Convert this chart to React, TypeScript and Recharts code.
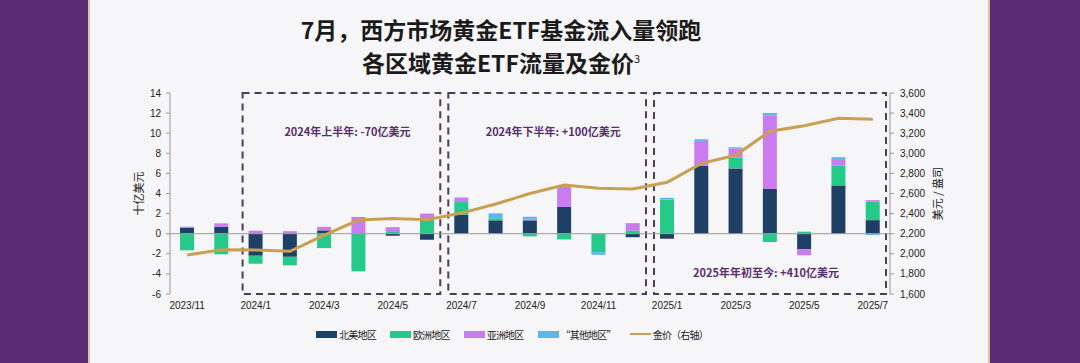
import React from "react";
import {
  Bar,
  ComposedChart,
  Legend,
  Line,
  ReferenceArea,
  ReferenceLine,
  XAxis,
  YAxis,
} from "recharts";

// 月份（横轴）
const months = [
  "2023/11", "2023/12", "2024/1", "2024/2", "2024/3", "2024/4", "2024/5",
  "2024/6", "2024/7", "2024/8", "2024/9", "2024/10", "2024/11", "2024/12",
  "2025/1", "2025/2", "2025/3", "2025/4", "2025/5", "2025/6", "2025/7",
];

// 各区域黄金ETF流量，十亿美元
const northAmerica = [0.6, 0.7, -2.2, -2.3, 0.33, 0, -0.2, -0.6, 1.9, 1.33, 1.33, 2.66, 0, -0.35, -0.5, 6.73, 6.5, 4.45, -1.55, 4.8, 1.35];
const europe = [-1.65, -2.05, -0.78, -0.85, -1.43, -3.75, 0.25, 1.4, 1.25, 0.2, -0.27, -0.57, -1.83, 0.3, 3.4, 0, 1.07, -0.83, 0.2, 1.97, 1.87];
const asia = [0.1, 0.33, 0.3, 0.25, 0.35, 1.66, 0.4, 0.6, 0.45, 0, 0.1, 2.06, 0, 0.75, 0, 2.5, 0.93, 7.33, -0.6, 0.57, 0.12];
const other = [0, 0, 0, 0, 0, 0, 0, 0, 0, 0.5, 0.25, 0, -0.27, 0, 0.17, 0.17, 0.1, 0.23, 0, 0.27, -0.12];

// 金价，美元/盎司
const goldPrice = [1988, 2040, 2038, 2025, 2185, 2336, 2350, 2340, 2405, 2495, 2600, 2685, 2652, 2645, 2712, 2900, 2980, 3220, 3275, 3348, 3338];

const leftTicks = [-6, -4, -2, 0, 2, 4, 6, 8, 10, 12, 14];
const rightTicks = [1600, 1800, 2000, 2200, 2400, 2600, 2800, 3000, 3200, 3400, 3600];

const seriesNames = ["北美地区", "欧洲地区", "亚洲地区", "“其他地区”", "金价（右轴）"];

const periodFrom = ["2024/1", "2024/7", "2025/1"];
const periodTo = ["2024/6", "2024/12", "2025/7"];
const periodLabels = ["2024年上半年: -70亿美元", "2024年下半年: +100亿美元", "2025年年初至今: +410亿美元"];

const NAVY = "#1e3f66";
const GREEN = "#25c98a";
const VIOLET = "#c97cef";
const SKY = "#5cb7ea";
const GOLD = "#c9a052";
const PURPLE = "#5b2a74";
const ANNOT = "#5a2d70";
const AXIS = "#9a9a9a";

const FONT = "'Liberation Sans', Arial, 'Noto Sans CJK SC', sans-serif";
const CJK = "'Noto Sans CJK SC', 'Liberation Sans', sans-serif";

const swatches = [NAVY, GREEN, VIOLET, SKY, GOLD];

const data = months.map((m, i) => ({
  month: m,
  na: northAmerica[i],
  eu: europe[i],
  asia: asia[i],
  other: other[i],
  gold: goldPrice[i],
}));

function LegendContent() {
  return (
    <div
      style={{
        display: "flex",
        justifyContent: "center",
        alignItems: "center",
        gap: 14,
        height: 20,
        paddingRight: 56,
        fontFamily: CJK,
        fontSize: 10,
        letterSpacing: -0.8,
        color: "#222",
      }}
    >
      {seriesNames.map((name, i) => (
        <span key={name} style={{ display: "flex", alignItems: "center" }}>
          <span
            style={{
              display: "inline-block",
              width: 21,
              height: i === 4 ? 2 : 7,
              background: swatches[i],
              marginRight: 2,
            }}
          />
          <span>{name}</span>
        </span>
      ))}
    </div>
  );
}

const dashedBox = (props: any) => (
  <rect
    x={props.x + 4}
    y={props.y}
    width={props.width - 8}
    height={props.height}
    fill="none"
    stroke="#4b3d5c"
    strokeWidth={2}
    strokeDasharray="7 5"
  />
);

export default function App() {
  return (
    <div
      style={{
        position: "fixed",
        left: 0,
        top: 0,
        width: 1080,
        height: 363,
        background: "#f6f5f7",
        overflow: "hidden",
      }}
    >
      <div style={{ position: "absolute", left: 0, top: 0, width: 88, height: 363, background: PURPLE }} />
      <div style={{ position: "absolute", left: 88, top: 0, width: 2, height: 363, background: "#e2c1a0" }} />
      <div style={{ position: "absolute", left: 988, top: 0, width: 2, height: 363, background: "#e2c1a0" }} />
      <div style={{ position: "absolute", left: 990, top: 0, width: 90, height: 363, background: PURPLE }} />

      <div
        style={{
          position: "absolute",
          left: 0,
          top: 13,
          width: 1002,
          textAlign: "center",
          fontFamily: CJK,
          fontWeight: 700,
          fontSize: 23,
          lineHeight: "33px",
          color: "#1b1b1b",
        }}
      >
        <div>7月，西方市场黄金ETF基金流入量领跑</div>
        <div>
          各区域黄金ETF流量及金价
          <sup style={{ fontSize: 11, lineHeight: 0, fontWeight: 400 }}>3</sup>
        </div>
      </div>

      <div style={{ position: "absolute", left: 0, top: 0 }}>
        <ComposedChart
          width={1080}
          height={363}
          data={data}
          stackOffset="sign"
          margin={{ top: 93, right: 145, bottom: 19, left: 130 }}
        >
          <XAxis
            dataKey="month"
            interval={1}
            axisLine={false}
            tickLine={false}
            height={30}
            tick={{ fontSize: 10, fill: "#222", fontFamily: FONT }}
          />
          <YAxis
            yAxisId="left"
            domain={[-6, 14]}
            ticks={leftTicks}
            width={40}
            stroke={AXIS}
            tickSize={4}
            tickMargin={5}
            tick={{ fontSize: 10, fill: "#222", fontFamily: FONT }}
            label={(p: any) => (
              <text
                x={p.viewBox.x + 8}
                y={p.viewBox.y + p.viewBox.height / 2}
                transform={`rotate(-90, ${p.viewBox.x + 8}, ${p.viewBox.y + p.viewBox.height / 2})`}
                textAnchor="middle"
                dominantBaseline="central"
                fontSize={11}
                fill="#222"
                fontFamily={CJK}
              >
                十亿美元
              </text>
            )}
          />
          <YAxis
            yAxisId="right"
            orientation="right"
            domain={[1600, 3600]}
            ticks={rightTicks}
            width={45}
            stroke={AXIS}
            tickSize={4}
            tickMargin={6}
            tickFormatter={(v: number) => v.toLocaleString("en-US")}
            tick={{ fontSize: 10, fill: "#222", fontFamily: FONT }}
            label={(p: any) => (
              <text
                x={p.viewBox.x + 47}
                y={p.viewBox.y + p.viewBox.height / 2}
                transform={`rotate(-90, ${p.viewBox.x + 47}, ${p.viewBox.y + p.viewBox.height / 2})`}
                textAnchor="middle"
                dominantBaseline="central"
                fontSize={11}
                fill="#222"
                fontFamily={CJK}
              >
                美元 / 盎司
              </text>
            )}
          />
          <Legend verticalAlign="bottom" wrapperStyle={{ left: 0, width: 1080 }} content={LegendContent} />

          {periodFrom.map((from, i) => (
            <ReferenceArea
              key={from}
              yAxisId="left"
              x1={from}
              x2={periodTo[i]}
              shape={dashedBox}
              label={{
                value: periodLabels[i],
                position: i === 2 ? "insideBottom" : "insideTop",
                offset: i === 2 ? 17 : 35,
                dx: i === 2 ? -4 : 6,
                fill: ANNOT,
                fontSize: 11,
                fontWeight: 700,
                fontFamily: CJK,
              }}
            />
          ))}

          <ReferenceLine yAxisId="left" y={0} stroke={AXIS} strokeWidth={1} />

          <Bar yAxisId="left" dataKey="na" name={seriesNames[0]} stackId="a" fill={NAVY} barSize={14} isAnimationActive={false} />
          <Bar yAxisId="left" dataKey="eu" name={seriesNames[1]} stackId="a" fill={GREEN} barSize={14} isAnimationActive={false} />
          <Bar yAxisId="left" dataKey="asia" name={seriesNames[2]} stackId="a" fill={VIOLET} barSize={14} isAnimationActive={false} />
          <Bar yAxisId="left" dataKey="other" name={seriesNames[3]} stackId="a" fill={SKY} barSize={14} isAnimationActive={false} />
          <Line
            yAxisId="right"
            dataKey="gold"
            name={seriesNames[4]}
            type="linear"
            stroke={GOLD}
            strokeWidth={3}
            dot={false}
            isAnimationActive={false}
          />
        </ComposedChart>
      </div>
    </div>
  );
}
